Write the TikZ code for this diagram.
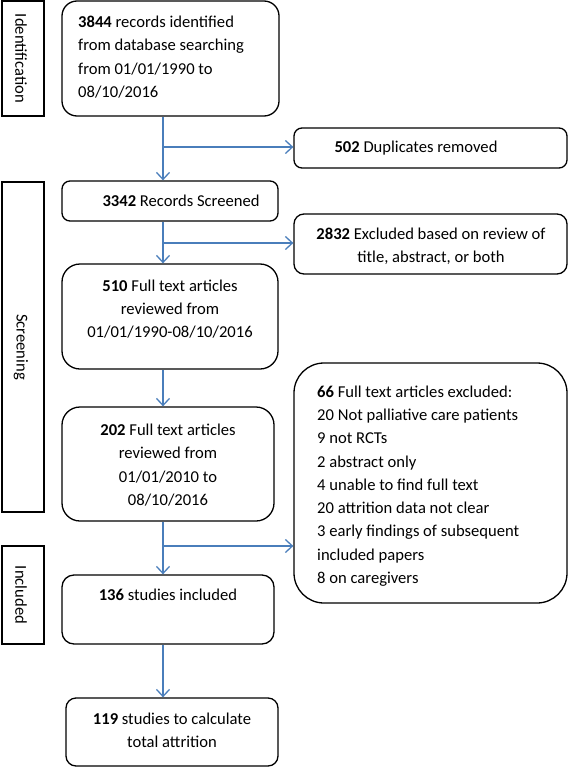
\documentclass[tikz,border=0pt]{standalone}
\usepackage{fontspec}
\setmainfont{Carlito}
\usetikzlibrary{arrows.meta}
\definecolor{flowblue}{HTML}{4A7EBB}
\begin{document}
\begin{tikzpicture}[x=1bp,y=-1bp,
  box/.style={draw=black,line width=1.3bp,rectangle,inner sep=0pt},
  sidebox/.style={draw=black,line width=1.3bp,rectangle,inner sep=0pt,minimum width=42bp},
  txt/.style={inner sep=0pt,font=\fontsize{16.6bp}{23.3bp}\selectfont},
  sidetxt/.style={txt,rotate=-90,xshift=-2bp},
  flow/.style={draw=flowblue,line width=1.3bp,-{Straight Barb[length=7bp,width=13bp]}}]
\useasboundingbox (0,0) rectangle (568,768);
% side labels
\node[sidebox,minimum height=115bp] (sid) at (23,58.5) {};
\node[txt,rotate=-90] at ([xshift=-2bp]sid.center) {Identification};
\node[sidebox,minimum height=330bp] (sscr) at (23,347) {};
\node[txt,rotate=-90] at ([xshift=-2bp]sscr.center) {Screening};
\node[sidebox,minimum height=98bp] (sinc) at (23,595) {};
\node[txt,rotate=-90] at ([xshift=-2bp]sinc.center) {Included};
% main boxes
\node[box,rounded corners=15bp,minimum width=217bp,minimum height=115bp] (b1) at (170.5,58.5) {};
\node[txt,anchor=west,align=left] at (78,57) {\textbf{3844} records identified\\from database searching\\from 01/01/1990 to\\08/10/2016};
\node[box,rounded corners=8bp,minimum width=273bp,minimum height=40bp] (dup) at (430.5,148) {};
\node[txt] at (416,148) {\textbf{502} Duplicates removed};
\node[box,rounded corners=8bp,minimum width=216bp,minimum height=40bp] (b2) at (170,201) {};
\node[txt] at (181,201) {\textbf{3342} Records Screened};
\node[box,rounded corners=10bp,minimum width=273bp,minimum height=60bp] (ex1) at (430.5,244) {};
\node[txt,align=center] at (431,246) {\textbf{2832} Excluded based on review of\\title, abstract, or both};
\node[box,rounded corners=18bp,minimum width=216bp,minimum height=105bp] (b3) at (170,316.5) {};
\node[txt,align=center] at (170,309) {\textbf{510} Full text articles\\reviewed from\\01/01/1990-08/10/2016};
\node[box,rounded corners=18bp,minimum width=212bp,minimum height=114bp] (b4) at (168,464) {};
\node[txt,align=center] at (168,465) {\textbf{202} Full text articles\\reviewed from\\01/01/2010 to\\08/10/2016};
\node[box,rounded corners=30bp,minimum width=273bp,minimum height=240bp] (ex2) at (430.5,483) {};
\node[txt,anchor=west,align=left] at (317,486) {\textbf{66} Full text articles excluded:\\20 Not palliative care patients\\9 not RCTs\\2 abstract only\\4 unable to find full text\\20 attrition data not clear\\3 early findings of subsequent\\included papers\\8 on caregivers};
\node[box,rounded corners=12bp,minimum width=212bp,minimum height=69bp] (b5) at (168,609.5) {};
\node[txt] at (168,595) {\textbf{136} studies included};
\node[box,rounded corners=10bp,minimum width=212bp,minimum height=68bp] (b6) at (172,732) {};
\node[txt,align=center] at (172,730) {\textbf{119} studies to calculate\\total attrition};
% spine
\coordinate (sp) at (163,0);
\coordinate (j1) at (163,147);
\coordinate (j2) at (163,243);
\coordinate (j3) at (163,546);
\draw[flow] (b1.south -| sp) -- (b2.north -| sp);
\draw[flow] (j1) -- (j1 -| dup.west);
\draw[flow] (b2.south -| sp) -- (b3.north -| sp);
\draw[flow] (j2) -- (j2 -| ex1.west);
\draw[flow] (b3.south -| sp) -- (b4.north -| sp);
\draw[flow] (b4.south -| sp) -- (b5.north -| sp);
\draw[flow] (j3) -- (j3 -| ex2.west);
\draw[flow] (b5.south -| sp) -- (b6.north -| sp);
\end{tikzpicture}
\end{document}
